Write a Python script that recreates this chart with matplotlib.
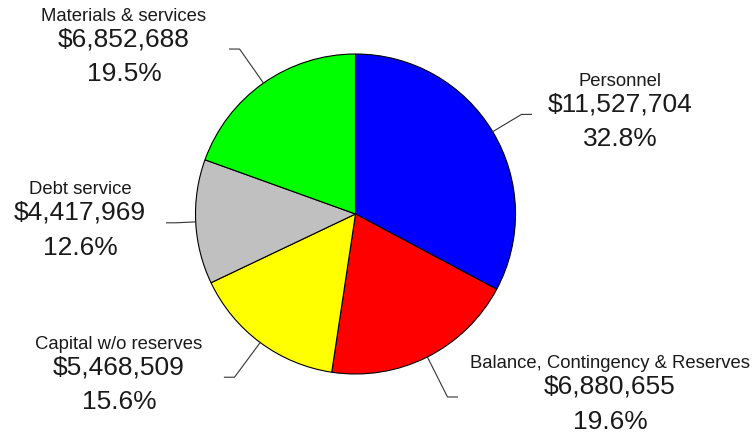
import numpy as np
import matplotlib
matplotlib.use('Agg')
import matplotlib.pyplot as plt

# budget categories, clockwise from the top
categories = ['Personnel', 'Balance, Contingency & Reserves', 'Capital w/o reserves',
              'Debt service', 'Materials & services']
amounts = [11527704, 6880655, 5468509, 4417969, 6852688]
colors = ['#0000ff', '#ff0000', '#ffff00', '#c0c0c0', '#00ff00']

# label layout: block centre x (pixels) and leader elbow distance (x radius)
label_x = [620, 610, 119, 80, 124]
elbow = [1.21, 1.28, 1.27, 1.12, 1.26]

plt.rcParams['font.family'] = ['Liberation Sans', 'DejaVu Sans']

W, H = 754, 434
fig = plt.figure(figsize=(W / 100, H / 100), dpi=100)
ax = fig.add_axes([0, 0, 1, 1])

cx, cy, r = 355.5, H - 214, 160
ax.pie(amounts, colors=colors, startangle=90, counterclock=False,
       center=(cx, cy), radius=r,
       wedgeprops=dict(edgecolor='black', linewidth=0.8))
ax.set_xlim(0, W)
ax.set_ylim(0, H)
ax.axis('off')

total = sum(amounts)
fracs = np.array(amounts) / total
starts = np.concatenate([[0], np.cumsum(fracs)[:-1]])
mids = 90 - (starts + fracs / 2) * 360

for i, name in enumerate(categories):
    a = np.radians(mids[i])
    x0, y0 = cx + r * np.cos(a), cy + r * np.sin(a)
    x1, y1 = cx + elbow[i] * r * np.cos(a), cy + elbow[i] * r * np.sin(a)
    side = 1 if np.cos(a) > 0 else -1
    x2 = x1 + side * 10
    ax.plot([x0, x1, x2], [y0, y1, y1], color='#333333', lw=0.8)
    tx = label_x[i]
    ax.text(tx, y1 + 33, name, ha='center', va='center', fontsize=13.3, color='#1a1a1a')
    ax.text(tx, y1 + 10, '${:,}'.format(amounts[i]), ha='center', va='center',
            fontsize=19, color='#1a1a1a')
    ax.text(tx, y1 - 25, '{:.1f}%'.format(fracs[i] * 100), ha='center', va='center',
            fontsize=19, color='#1a1a1a')

plt.savefig('out.png', dpi=100)
